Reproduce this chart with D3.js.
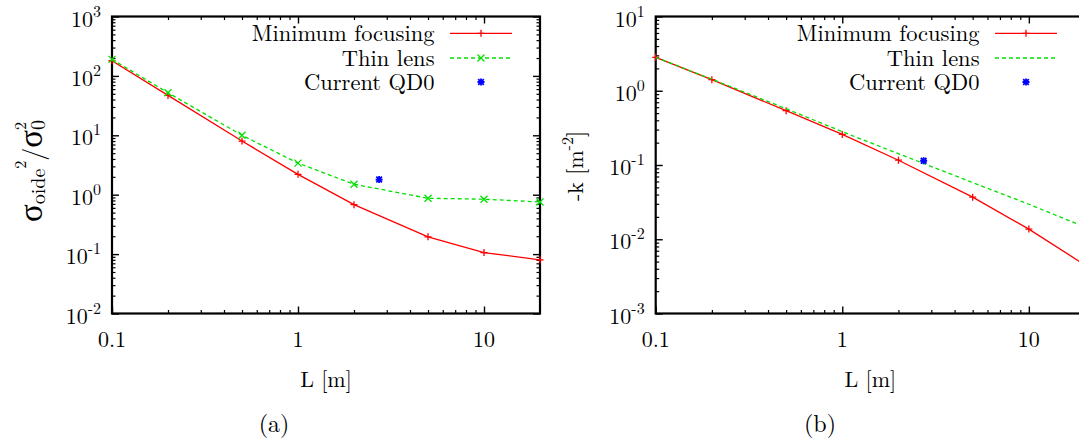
<!DOCTYPE html>
<html><head><meta charset="utf-8">
<script src="https://cdn.jsdelivr.net/npm/d3@7"></script>
<style>
body{margin:0;background:#fff}
svg{display:block;background:#fff}
</style>
</head><body>
<svg id="c" width="1079" height="443"></svg>
<script>
// ---------- data ----------
const L = [0.1, 0.2, 0.5, 1, 2, 5, 10, 20];
const sigmaMinFocus = [180, 47, 8.0, 2.2, 0.68, 0.195, 0.106, 0.080];
const sigmaThinLens = [190, 52, 10, 3.4, 1.5, 0.87, 0.84, 0.755];
const kMinFocus = [2.82, 1.41, 0.539, 0.258, 0.116, 0.0369, 0.0137, 0.0045];
const kThinLens = [2.82, 1.43, 0.573, 0.281, 0.142, 0.058, 0.0296, 0.0146];
const currentL = [2.73];
const sigmaCurrent = [1.8];
const kCurrent = [0.114];
const seriesNames = ["Minimum focusing", "Thin lens", "Current QD0"];
const xTickValues = [0.1, 1, 10];
const xTickLabels = ["0.1", "1", "10"];
const yExpA = [-2, -1, 0, 1, 2, 3];
const yExpB = [-3, -2, -1, 0, 1];
const xLabel = "L [m]";
const captions = ["(a)", "(b)"];

// ---------- drawing ----------
const FONT = '"Latin Modern Roman", "Liberation Serif", serif';
const GREEKFONT = '"Liberation Serif", serif';
const svg = d3.select("#c");
const RED = "#ff0000", GREEN = "#00e000", BLUE = "#0000ff";

function txt(sel) { return sel.append("text").style("font-family", FONT).attr("fill", "#000"); }

function minorTicks(lo, hi) {
  const out = [];
  for (let d = Math.floor(Math.log10(lo)); d <= Math.ceil(Math.log10(hi)); d++) {
    for (let m = 2; m <= 9; m++) {
      const v = m * Math.pow(10, d);
      if (v > lo * 1.0001 && v < hi * 0.9999) out.push(v);
    }
  }
  return out;
}

function markerPath(type, s) {
  if (type === "+") return `M${-s},0H${s}M0,${-s}V${s}`;
  if (type === "x") return `M${-s},${-s}L${s},${s}M${-s},${s}L${s},${-s}`;
  return `M${-s},0H${s}M0,${-s}V${s}M${-s*0.8},${-s*0.8}L${s*0.8},${s*0.8}M${-s*0.8},${s*0.8}L${s*0.8},${-s*0.8}`;
}

function panel(cfg) {
  const g = svg.append("g");
  const x = d3.scaleLog().domain([0.1, 20]).range([cfg.x0, cfg.x1]);
  const yExp = cfg.yExp;
  const y = d3.scaleLog().domain([Math.pow(10, yExp[0]), Math.pow(10, yExp[yExp.length-1])]).range([313.5, 16.5]);
  const yMajors = yExp.map(e => Math.pow(10, e));

  const axes = [
    [d3.axisBottom(x), `translate(0,${y.range()[0]})`, xTickValues, minorTicks(0.1, 20)],
    [d3.axisTop(x), `translate(0,${y.range()[1]})`, xTickValues, minorTicks(0.1, 20)],
    [d3.axisLeft(y), `translate(${cfg.x0},0)`, yMajors, minorTicks(y.domain()[0], y.domain()[1])]
  ];
  if (cfg.rightAxis) axes.push([d3.axisRight(y), `translate(${cfg.x1},0)`, yMajors, minorTicks(y.domain()[0], y.domain()[1])]);
  axes.forEach(([ax, tr, maj, min]) => {
    const a1 = g.append("g").attr("transform", tr)
      .call(ax.tickValues(maj).tickSize(-7).tickFormat(() => ""));
    a1.select(".domain").remove();
    a1.selectAll("line").attr("stroke", "#000").attr("stroke-width", 1.4);
    const a2 = g.append("g").attr("transform", tr)
      .call(ax.tickValues(min).tickSize(-3.5).tickFormat(() => ""));
    a2.select(".domain").remove();
    a2.selectAll("line").attr("stroke", "#000").attr("stroke-width", 1.2);
  });

  g.append("rect").attr("x", cfg.x0).attr("y", y.range()[1])
    .attr("width", cfg.x1 - cfg.x0).attr("height", y.range()[0] - y.range()[1])
    .attr("fill", "none").attr("stroke", "#000").attr("stroke-width", 2.2);

  yExp.forEach(e => {
    const t = txt(g).attr("x", cfg.x0 - 11).attr("y", y(Math.pow(10, e)) + 10)
      .attr("text-anchor", "end").attr("font-size", 22);
    t.append("tspan").text("10");
    t.append("tspan").attr("dy", -10).attr("font-size", 16).text(String(e));
  });
  xTickValues.forEach((v, i) => {
    txt(g).attr("x", x(v)).attr("y", 347).attr("text-anchor", "middle")
      .attr("font-size", 22).text(xTickLabels[i]);
  });
  txt(g).attr("x", (cfg.x0 + cfg.x1) / 2).attr("y", 387)
    .attr("text-anchor", "middle").attr("font-size", 22).text(xLabel);
  txt(g).attr("x", cfg.capX).attr("y", 432).attr("text-anchor", "middle")
    .attr("font-size", 24).text(cfg.caption);

  const clipId = "clip" + cfg.caption.replace(/\W/g, "");
  svg.append("clipPath").attr("id", clipId).append("rect")
    .attr("x", cfg.x0).attr("y", y.range()[1]).attr("width", cfg.x1 - cfg.x0).attr("height", y.range()[0] - y.range()[1]);
  const line = d3.line().x(d => x(d[0])).y(d => y(d[1]));
  const dg = g.append("g");

  cfg.series.forEach(s => {
    const pts = L.map((l, i) => [l, s.values[i]]);
    dg.append("path").attr("d", line(pts)).attr("fill", "none")
      .attr("stroke", s.color).attr("stroke-width", 1.3)
      .attr("stroke-dasharray", s.dash || null)
      .attr("clip-path", `url(#${clipId})`);
    if (s.marker) {
      dg.selectAll(null).data(pts).enter().append("path")
        .attr("transform", d => `translate(${x(d[0])},${y(d[1])})`)
        .attr("d", markerPath(s.marker, 3.5)).attr("stroke", s.color)
        .attr("stroke-width", 1.3).attr("fill", "none");
    }
  });
  dg.selectAll(null).data(currentL.map((l, i) => [l, cfg.current[i]])).enter().append("path")
    .attr("transform", d => `translate(${x(d[0])},${y(d[1])})`)
    .attr("d", markerPath("*", 3.5)).attr("stroke", BLUE).attr("stroke-width", 1.8).attr("fill", "none");

  const rows = [33.3, 58, 82];
  const legendItems = [
    {color: RED, marker: "+", dash: null, line: true},
    {color: GREEN, marker: cfg.series[1].marker, dash: "4,3", line: true},
    {color: BLUE, marker: "*", line: false}
  ];
  legendItems.forEach((it, i) => {
    txt(g).attr("x", cfg.x1 - 105.5).attr("y", rows[i] + 7.5)
      .attr("text-anchor", "end").attr("font-size", 22.5).text(seriesNames[i]);
    if (it.line) {
      g.append("line").attr("x1", cfg.x1 - 90).attr("x2", cfg.x1 - 28)
        .attr("y1", rows[i]).attr("y2", rows[i]).attr("stroke", it.color)
        .attr("stroke-width", 1.3).attr("stroke-dasharray", it.dash);
    }
    if (it.marker) {
      g.append("path").attr("transform", `translate(${cfg.x1 - 59},${rows[i]})`)
        .attr("d", markerPath(it.marker, 3.5)).attr("stroke", it.color)
        .attr("stroke-width", it.marker === "*" ? 1.8 : 1.3).attr("fill", "none");
    }
  });
  return g;
}

panel({
  x0: 112, x1: 540, yExp: yExpA, caption: captions[0], capX: 274, rightAxis: true,
  series: [
    {values: sigmaMinFocus, color: RED, marker: "+"},
    {values: sigmaThinLens, color: GREEN, marker: "x", dash: "4,3"}
  ],
  current: sigmaCurrent
});
panel({
  x0: 655.7, x1: 1085, yExp: yExpB, caption: captions[1], capX: 820, rightAxis: false,
  series: [
    {values: kMinFocus, color: RED, marker: "+"},
    {values: kThinLens, color: GREEN, marker: null, dash: "4,3"}
  ],
  current: kCurrent
});

const ya = txt(svg).attr("transform", "translate(42,171) rotate(-90)")
  .attr("text-anchor", "middle").attr("font-size", 22);
ya.append("tspan").attr("font-size", 33).style("font-family", GREEKFONT).text("σ");
ya.append("tspan").attr("font-size", 20).attr("dy", 3).text("oide");
ya.append("tspan").attr("font-size", 16).attr("dy", -19).text("2");
ya.append("tspan").attr("font-size", 26).attr("dy", 16).text("/");
ya.append("tspan").attr("font-size", 33).style("font-family", GREEKFONT).text("σ");
ya.append("tspan").attr("font-size", 20).attr("dy", 3).text("0");
ya.append("tspan").attr("font-size", 16).attr("dx", -10).attr("dy", -19).text("2");

const yb = txt(svg).attr("transform", "translate(583,166) rotate(-90)")
  .attr("text-anchor", "middle").attr("font-size", 22);
yb.append("tspan").text("-k [m");
yb.append("tspan").attr("font-size", 16).attr("dy", -10).text("-2");
yb.append("tspan").attr("dy", 10).text("]");
</script>
</body></html>
